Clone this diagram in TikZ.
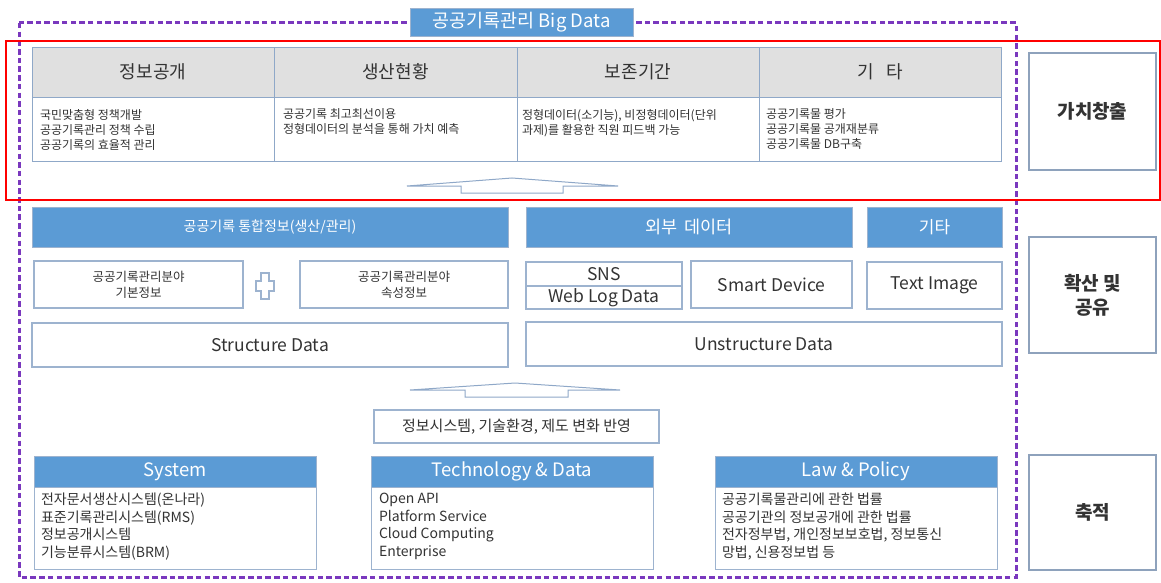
\documentclass[tikz,border=0pt]{standalone}
\usepackage{fontspec}
\setmainfont{Noto Sans CJK KR}
\definecolor{bblue}{HTML}{5B9BD5}
\definecolor{bord}{HTML}{9DB3CF}
\definecolor{tbord}{HTML}{8FA8C8}
\definecolor{tgray}{HTML}{333333}
\definecolor{hgray}{HTML}{E0E0E0}
\definecolor{purp}{HTML}{7A38BE}
\definecolor{rbord}{HTML}{8EA2BC}
\newcommand{\fs}[2]{\fontsize{#1}{#2}\selectfont}
\newcommand{\bx}[7]{\node[#6, anchor=north west, minimum width={(#4-#2)*1pt}, minimum height={(#5-#3)*1pt}] (#1) at (#2,#3) {#7};}
\tikzset{
  base/.style={inner sep=0pt, outer sep=0pt, text=tgray},
  wbox/.style={base, draw=bord, line width=1.1pt, fill=white, align=center},
  bbar/.style={base, draw=bord, line width=0.8pt, fill=bblue, text=white, align=center},
  thead/.style={base, draw=tbord, line width=0.9pt, fill=hgray, align=center},
  tbody/.style={base, draw=tbord, line width=0.9pt, fill=white},
  rbox/.style={base, draw=rbord, line width=1.2pt, fill=white, align=center, font=\fs{19}{24}\bfseries},
  txt/.style={base, anchor=north west, align=left},
  barrow/.style={draw=tbord, line width=1pt, fill=white},
}
\begin{document}
\begin{tikzpicture}[x=1pt,y=-1pt]
\useasboundingbox[fill=white] (0,0) rectangle (1161,583);
% frames
\draw[purp, line width=3pt, dash pattern=on 5.5pt off 3.2pt] (19,23) rectangle (1016,577);
\draw[red, line width=2pt] (6,41) rectangle (1160,200);
\bx{title}{410}{8}{633}{36}{bbar, font=\fs{18.5}{22}}{공공기록관리 Big Data}
% table
\bx{h1}{32}{47}{274}{97}{thead, font=\fs{18}{22}}{정보공개}
\bx{h2}{274}{47}{517}{97}{thead, font=\fs{18}{22}}{생산현황}
\bx{h3}{517}{47}{759}{97}{thead, font=\fs{18}{22}}{보존기간}
\bx{h4}{759}{47}{1001}{97}{thead, font=\fs{18}{22}}{기\hspace{0.7em}타}
\bx{b1}{32}{97}{274}{161}{tbody}{}
\bx{b2}{274}{97}{517}{161}{tbody}{}
\bx{b3}{517}{97}{759}{161}{tbody}{}
\bx{b4}{759}{97}{1001}{161}{tbody}{}
\node[txt, font=\fs{12}{15}] (t1) at (40,109) {국민맞춤형 정책개발\\공공기록관리 정책 수립\\공공기록의 효율적 관리};
\node[txt, font=\fs{12}{15}] (t2) at (283,109) {공공기록 최고최선이용\\정형데이터의 분석을 통해 가치 예측};
\node[txt, font=\fs{12}{15}] (t3) at (522,109) {정형데이터(소기능), 비정형데이터(단위\\과제)를 활용한 직원 피드백 가능};
\node[txt, font=\fs{12}{15}] (t4) at (766,109) {공공기록물 평가\\공공기록물 공개재분류\\공공기록물 DB구축};
% top block arrow
\draw[barrow] (407,186) -- (512,178) -- (618,186) -- (563,186) -- (563,193) -- (461,193) -- (461,186) -- cycle;
% middle section
\bx{bar1}{32}{207}{508}{247}{bbar, font=\fs{14}{18}}{공공기록 통합정보(생산/관리)}
\bx{bar2}{526}{207}{852}{247}{bbar, font=\fs{17.5}{20}}{외부\hspace{0.4em}데이터}
\bx{bar3}{867}{207}{1002}{247}{bbar, font=\fs{17}{20}}{기타}
\bx{r1}{34}{261}{243}{308}{wbox, font=\fs{12.5}{16}}{공공기록관리분야\\기본정보}
\bx{r2}{300}{261}{508}{308}{wbox, font=\fs{12.5}{16}}{공공기록관리분야\\속성정보}
\draw[bord, line width=1.4pt] (261,273) -- (269,273) -- (269,281) -- (274,281) -- (274,291) -- (269,291) -- (269,299) -- (261,299) -- (261,291) -- (256,291) -- (256,281) -- (261,281) -- cycle;
\bx{sns}{526}{262}{682}{286}{wbox, font=\fs{17.5}{20}}{SNS}
\bx{web}{526}{286}{682}{309}{wbox, font=\fs{17.5}{20}}{Web Log Data}
\bx{smart}{691}{261}{852}{308}{wbox, font=\fs{17.5}{20}}{Smart Device}
\bx{timg}{867}{262}{1002}{309}{wbox, font=\fs{17.5}{20}}{Text Image}
\bx{sd}{32}{323}{508}{367}{wbox, font=\fs{17.5}{20}}{Structure Data}
\bx{ud}{526}{322}{1002}{366}{wbox, font=\fs{17.5}{20}}{Unstructure Data}
% middle block arrow
\draw[barrow] (410,390) -- (515,383) -- (620,390) -- (568,390) -- (568,397) -- (465,397) -- (465,390) -- cycle;
\bx{info}{374}{410}{659}{443}{wbox, font=\fs{15}{18}}{정보시스템, 기술환경, 제도 변화 반영}
% bottom panels
\bx{sysh}{34}{456}{316}{487}{bbar, font=\fs{18.5}{22}}{System}
\bx{sysb}{34}{487}{316}{569}{tbody, draw=bord}{}
\bx{tech}{371}{456}{653}{487}{bbar, font=\fs{18.5}{22}}{Technology \& Data}
\bx{techb}{371}{487}{653}{569}{tbody, draw=bord}{}
\bx{lawh}{715}{456}{997}{487}{bbar, font=\fs{18.5}{22}}{Law \& Policy}
\bx{lawb}{715}{487}{997}{569}{tbody, draw=bord}{}
\node[txt, font=\fs{14}{17.7}] (st) at (41,493) {전자문서생산시스템(온나라)\\표준기록관리시스템(RMS)\\정보공개시스템\\기능분류시스템(BRM)};
\node[txt, font=\fs{14}{17.7}] (tt) at (379,493) {Open API\\Platform Service\\Cloud Computing\\Enterprise};
\node[txt, font=\fs{14}{17.7}] (lt) at (722,493) {공공기록물관리에 관한 법률\\공공기관의 정보공개에 관한 법률\\전자정부법, 개인정보보호법, 정보통신\\망법, 신용정보법 등};
% right boxes
\bx{v1}{1029}{53}{1156}{170}{rbox}{가치창출}
\bx{v2}{1029}{237}{1156}{353}{rbox}{확산 및\\공유}
\bx{v3}{1029}{455}{1156}{570}{rbox}{축적}
\end{tikzpicture}
\end{document}
